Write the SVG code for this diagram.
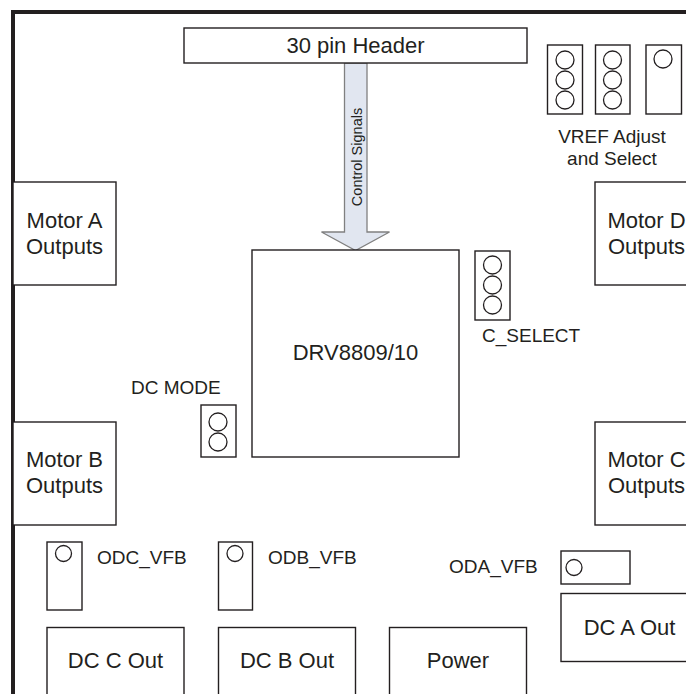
<svg xmlns="http://www.w3.org/2000/svg" width="686" height="694" viewBox="0 0 686 694">
<style>
.box{fill:#fff;stroke:#231f20;stroke-width:1.4}
.pin{fill:#fff;stroke:#231f20;stroke-width:1.3}
.big{font-family:"Liberation Sans",Arial,sans-serif;font-size:22px;fill:#231f20}
.sm{font-family:"Liberation Sans",Arial,sans-serif;font-size:19px;fill:#231f20}
.mid{text-anchor:middle}
</style>
<rect width="686" height="694" fill="#fff"/>
<path d="M13,694 V12 H686" fill="none" stroke="#231f20" stroke-width="4"/>

<g id="connectors">
<path id="control-signals" d="M344.5,63 H367 V232 H389.5 L355.5,250.5 L321.5,232 H344.5 Z" fill="#e1e6f0" stroke="#808080" stroke-width="1.3"/>
<text class="sm mid" transform="translate(362,157) rotate(-90)" style="font-size:14.5px">Control Signals</text>
</g>

<g id="header"><rect class="box" x="184" y="28" width="343" height="35"/><text class="big mid" x="355.5" y="53">30 pin Header</text></g>

<g id="vref">
<rect class="box" x="547.5" y="45" width="35" height="69"/>
<circle class="pin" cx="565" cy="60" r="9"/><circle class="pin" cx="565" cy="80" r="9"/><circle class="pin" cx="565" cy="100" r="9"/>
<rect class="box" x="595.5" y="45" width="34.5" height="69"/>
<circle class="pin" cx="612.5" cy="60" r="9"/><circle class="pin" cx="612.5" cy="80" r="9"/><circle class="pin" cx="612.5" cy="100" r="9"/>
<rect class="box" x="646" y="45" width="35.5" height="69"/>
<circle class="pin" cx="663" cy="59" r="9"/>
<text class="sm mid" x="612" y="143">VREF Adjust</text>
<text class="sm mid" x="612" y="165">and Select</text>
</g>

<g id="motor-a"><rect class="box" x="13" y="182" width="103" height="103"/><text class="big mid" x="64.5" y="228">Motor A</text><text class="big mid" x="64.5" y="254">Outputs</text></g>
<g id="motor-b"><rect class="box" x="13" y="422" width="103" height="103"/><text class="big mid" x="64.5" y="467">Motor B</text><text class="big mid" x="64.5" y="493">Outputs</text></g>
<g id="motor-d"><rect class="box" x="595" y="182" width="103" height="103"/><text class="big mid" x="646.5" y="228">Motor D</text><text class="big mid" x="646.5" y="254">Outputs</text></g>
<g id="motor-c"><rect class="box" x="595" y="422" width="103" height="103"/><text class="big mid" x="646.5" y="467">Motor C</text><text class="big mid" x="646.5" y="493">Outputs</text></g>

<g id="drv"><rect class="box" x="252" y="250" width="207" height="207"/><text class="big mid" x="355.5" y="360">DRV8809/10</text></g>

<g id="c-select">
<rect class="box" x="475" y="251" width="35" height="69"/>
<circle class="pin" cx="492.5" cy="265" r="9"/><circle class="pin" cx="492.5" cy="285" r="9"/><circle class="pin" cx="492.5" cy="305" r="9"/>
<text class="sm" x="482" y="342">C_SELECT</text>
</g>

<g id="dc-mode">
<text class="sm" x="131" y="394">DC MODE</text>
<rect class="box" x="201" y="405" width="35" height="52"/>
<circle class="pin" cx="218" cy="422" r="9"/><circle class="pin" cx="218" cy="442" r="9"/>
</g>

<g id="odc-vfb"><rect class="box" x="47" y="542" width="35" height="68"/><circle class="pin" cx="63.5" cy="553.5" r="8"/><text class="sm" x="97" y="564">ODC_VFB</text></g>
<g id="odb-vfb"><rect class="box" x="218.5" y="542" width="34" height="68"/><circle class="pin" cx="235" cy="553.5" r="8"/><text class="sm" x="268" y="564">ODB_VFB</text></g>
<g id="oda-vfb"><text class="sm" x="449" y="573">ODA_VFB</text><rect class="box" x="561" y="551" width="69" height="33"/><circle class="pin" cx="574" cy="567.5" r="8"/></g>

<g id="dc-c-out"><rect class="box" x="47" y="627.5" width="137" height="80"/><text class="big mid" x="115.5" y="668">DC C Out</text></g>
<g id="dc-b-out"><rect class="box" x="218.5" y="627.5" width="137" height="80"/><text class="big mid" x="287" y="668">DC B Out</text></g>
<g id="power"><rect class="box" x="389.5" y="627.5" width="137" height="80"/><text class="big mid" x="458" y="668">Power</text></g>
<g id="dc-a-out"><rect class="box" x="561" y="593.5" width="137" height="68"/><text class="big mid" x="629.5" y="635">DC A Out</text></g>
</svg>
